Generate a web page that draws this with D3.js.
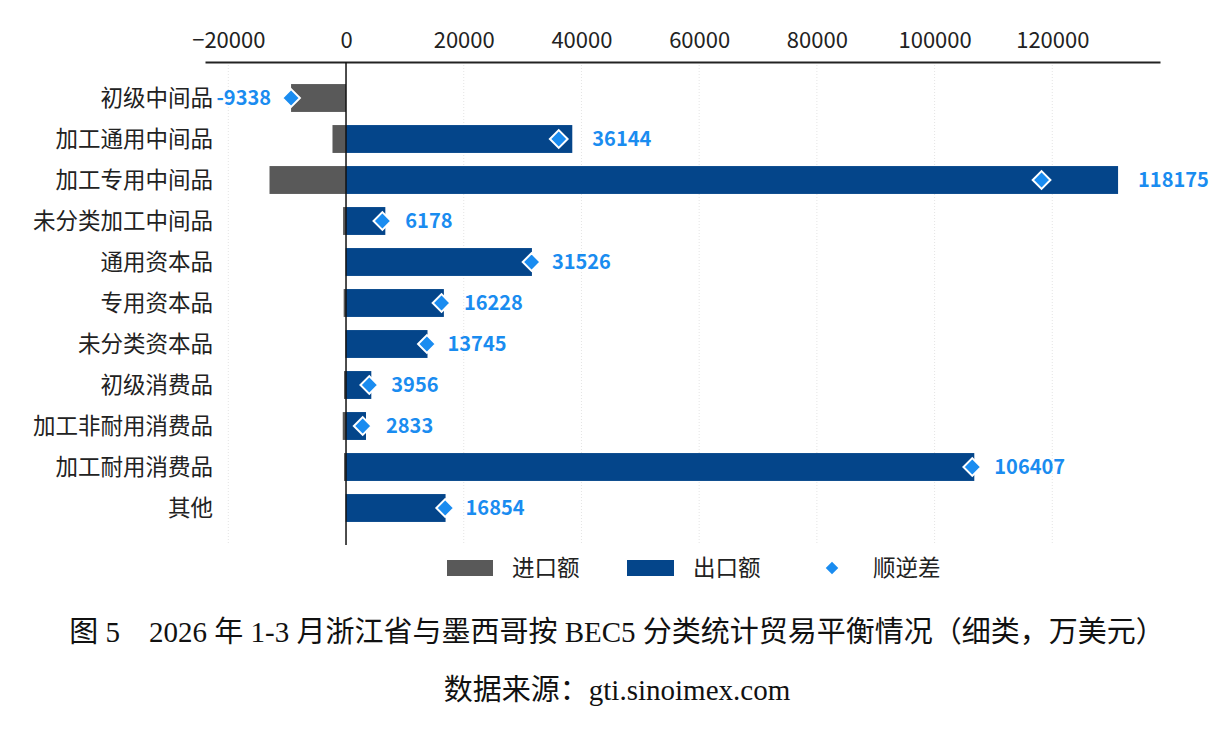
<!DOCTYPE html>
<html>
<head>
<meta charset="utf-8">
<script src="https://cdn.jsdelivr.net/npm/d3@7"></script>
<style>
  body { margin: 0; background: #fff; }
  text { font-family: "Noto Sans CJK SC", "Noto Sans", sans-serif; }
  .caption { font-family: "Liberation Serif", "Noto Sans CJK SC", serif; }
</style>
</head>
<body>
<div id="wrapper"></div>
<script>
const categories = ["初级中间品", "加工通用中间品", "加工专用中间品", "未分类加工中间品", "通用资本品",
  "专用资本品", "未分类资本品", "初级消费品", "加工非耐用消费品", "加工耐用消费品", "其他"];
const imports = [-9338, -2300, -13000, -500, -60, -400, -100, -340, -560, -340, -60];
const exports = [0, 38444, 131175, 6678, 31586, 16628, 13845, 4296, 3393, 106747, 16914];
const balance = [-9338, 36144, 118175, 6178, 31526, 16228, 13745, 3956, 2833, 106407, 16854];
const tickValues = [-20000, 0, 20000, 40000, 60000, 80000, 100000, 120000];

const width = 1231, height = 730;
const margin = { top: 62, right: 71, bottom: 185, left: 205 };

const svg = d3.select("#wrapper").append("svg")
  .attr("width", width).attr("height", height);

const x = d3.scaleLinear()
  .domain([-23960, 138300])
  .range([margin.left, width - margin.right]);
// rows: first centre at 98, step 41
const y = d3.scaleBand()
  .domain(categories)
  .range([77.5, 528.5])
  .paddingInner(0.32).paddingOuter(0.16);

// dotted gridlines
svg.append("g").selectAll("line")
  .data(tickValues.filter(d => d !== 0))
  .join("line")
    .attr("x1", d => x(d)).attr("x2", d => x(d))
    .attr("y1", margin.top).attr("y2", 545)
    .attr("stroke", "#e4e4e4").attr("stroke-dasharray", "1,2");

// top axis
const axis = svg.append("g")
  .attr("transform", `translate(0,${margin.top})`)
  .call(d3.axisTop(x).tickValues(tickValues).tickSize(0).tickPadding(14).tickFormat(d3.format("d")));
axis.select(".domain").attr("stroke", "#222").attr("stroke-width", 2);
axis.selectAll("text")
  .attr("font-size", 22).attr("fill", "#222")
  .text(d => d < 0 ? "\u2212" + Math.abs(d) : d);

// bars
const rows = categories.map((c, i) => ({ c, imp: imports[i], exp: exports[i], bal: balance[i] }));

svg.append("g").selectAll("rect")
  .data(rows)
  .join("rect")
    .attr("x", d => x(d.imp)).attr("width", d => x(0) - x(d.imp))
    .attr("y", d => y(d.c)).attr("height", y.bandwidth())
    .attr("fill", "#595959");

svg.append("g").selectAll("rect")
  .data(rows)
  .join("rect")
    .attr("x", x(0)).attr("width", d => x(d.exp) - x(0))
    .attr("y", d => y(d.c)).attr("height", y.bandwidth())
    .attr("fill", "#04458a");

// zero line
svg.append("line")
  .attr("x1", x(0)).attr("x2", x(0))
  .attr("y1", margin.top).attr("y2", 545)
  .attr("stroke", "#111").attr("stroke-width", 1.5);

// balance diamonds
const diamond = d3.symbol().type(d3.symbolDiamond2).size(200);
svg.append("g").selectAll("path")
  .data(rows)
  .join("path")
    .attr("d", diamond)
    .attr("transform", d => `translate(${x(d.bal)},${y(d.c) + y.bandwidth() / 2})`)
    .attr("fill", "#1a8cf0").attr("stroke", "#fff").attr("stroke-width", 2);

// labels sit just outside the bar ends
svg.append("g").selectAll("text")
  .data(rows)
  .join("text")
    .attr("x", d => d.bal < 0 ? x(d.imp) - 20 : x(d.exp) + 20)
    .attr("y", d => y(d.c) + y.bandwidth() / 2)
    .attr("dy", "0.35em")
    .attr("text-anchor", d => d.bal < 0 ? "end" : "start")
    .attr("font-size", 20).attr("font-weight", "bold")
    .attr("fill", "#1a8cf0")
    .text(d => d.bal);

// category labels
svg.append("g").selectAll("text")
  .data(categories)
  .join("text")
    .attr("x", 213).attr("y", d => y(d) + y.bandwidth() / 2)
    .attr("dy", "0.35em").attr("text-anchor", "end")
    .attr("font-size", 22.5).attr("fill", "#222")
    .text(d => d);

// legend
const legend = svg.append("g").attr("transform", "translate(0,568)");
legend.append("rect").attr("x", 447).attr("y", -8).attr("width", 46).attr("height", 16).attr("fill", "#595959");
legend.append("text").attr("x", 512).attr("dy", "0.35em").attr("font-size", 22.5).attr("fill", "#222").text("进口额");
legend.append("rect").attr("x", 627).attr("y", -8).attr("width", 47).attr("height", 16).attr("fill", "#04458a");
legend.append("text").attr("x", 693).attr("dy", "0.35em").attr("font-size", 22.5).attr("fill", "#222").text("出口额");
legend.append("path").attr("d", d3.symbol().type(d3.symbolDiamond2).size(100))
  .attr("transform", "translate(832,0)").attr("fill", "#1a8cf0");
legend.append("text").attr("x", 873).attr("dy", "0.35em").attr("font-size", 22.5).attr("fill", "#222").text("顺逆差");

// caption
svg.append("text").attr("class", "caption")
  .attr("x", 617).attr("y", 642).attr("text-anchor", "middle")
  .attr("font-size", 29).attr("fill", "#111")
  .text("图 5　2026 年 1-3 月浙江省与墨西哥按 BEC5 分类统计贸易平衡情况（细类，万美元）");
svg.append("text").attr("class", "caption")
  .attr("x", 617).attr("y", 700).attr("text-anchor", "middle")
  .attr("font-size", 29).attr("fill", "#111")
  .text("数据来源：gti.sinoimex.com");
</script>
</body>
</html>
